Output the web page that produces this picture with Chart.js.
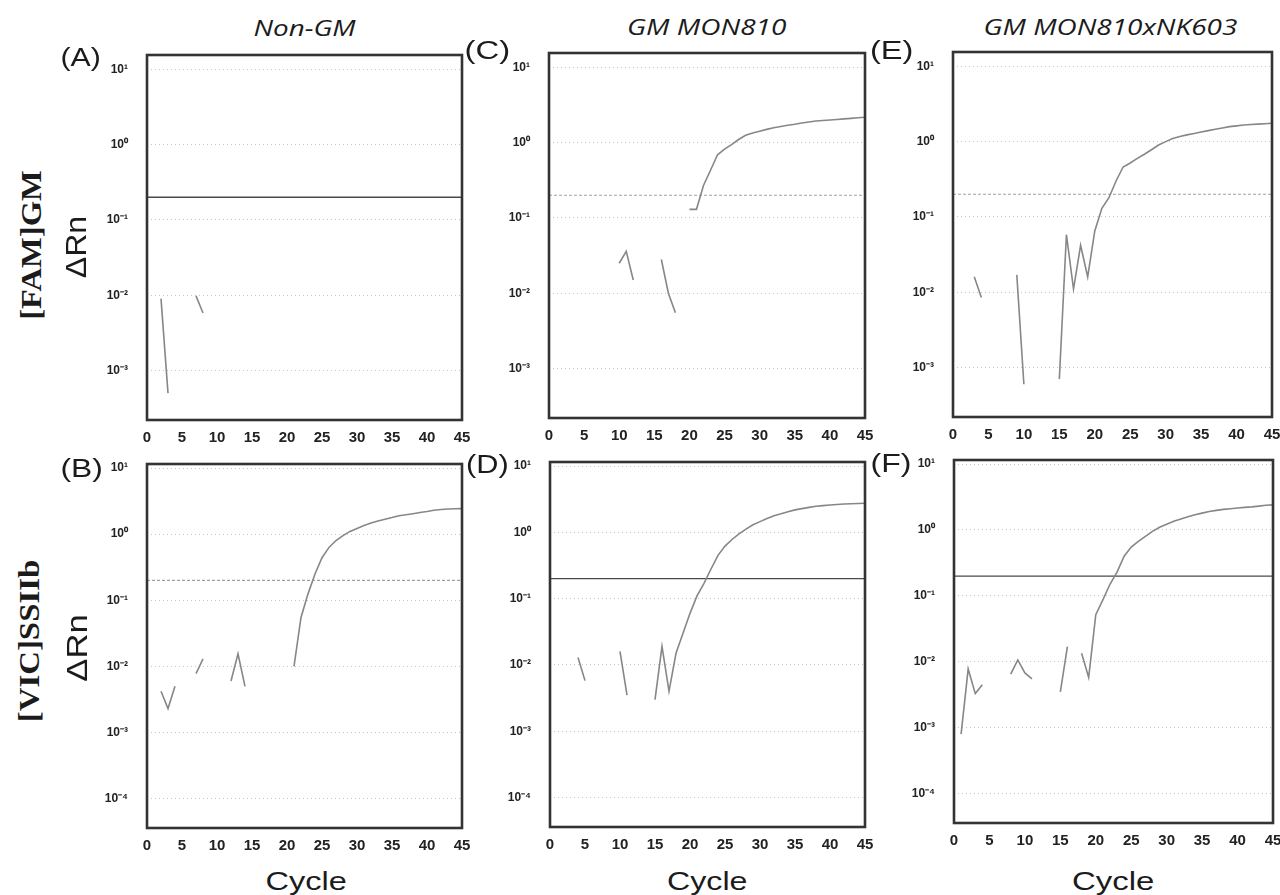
<!DOCTYPE html>
<html>
<head>
<meta charset="utf-8">
<script src="https://cdn.jsdelivr.net/npm/chart.js@4.4.0/dist/chart.umd.min.js"></script>
<style>
html, body { margin: 0; padding: 0; background: #fff; }
#fig { position: relative; width: 1280px; height: 895px; overflow: hidden; background: #fff; }
#fig canvas { position: absolute; }
.t { position: absolute; white-space: nowrap; color: #1b1b1b; }
</style>
</head>
<body>
<div id="fig"></div>
<script>
// qPCR cycles (x axis) and delta Rn per cycle, null = no value on the log scale
const cycles = [1,2,3,4,5,6,7,8,9,10,11,12,13,14,15,16,17,18,19,20,21,22,23,24,25,26,27,28,29,30,31,32,33,34,35,36,37,38,39,40,41,42,43,44,45];

const famNonGM = [null,0.009,0.0005,null,null,null,0.0098,0.0058,null,null,null,null,null,null,null,null,null,null,null,null,null,null,null,null,null,null,null,null,null,null,null,null,null,null,null,null,null,null,null,null,null,null,null,null,null];
const famMON810 = [null,null,null,null,null,null,null,null,null,0.025,0.036,0.015,null,null,null,0.028,0.01,0.0055,null,0.13,0.13,0.27,0.43,0.69,0.82,0.94,1.1,1.25,1.34,1.42,1.5,1.58,1.64,1.7,1.75,1.82,1.88,1.94,1.97,2.0,2.03,2.07,2.1,2.14,2.17];
const famStack = [null,null,0.016,0.0085,null,null,null,null,0.017,0.0006,null,null,null,null,0.0007,0.058,0.011,0.042,0.016,0.065,0.13,0.18,0.3,0.46,0.52,0.6,0.68,0.78,0.9,1.0,1.1,1.17,1.23,1.28,1.34,1.4,1.46,1.52,1.58,1.62,1.66,1.69,1.71,1.73,1.75];
const vicNonGM = [null,0.0042,0.0023,0.005,null,null,0.0078,0.013,null,null,null,0.006,0.0155,0.005,null,null,null,null,null,null,0.01,0.055,0.125,0.25,0.44,0.63,0.8,0.95,1.1,1.22,1.35,1.47,1.58,1.68,1.78,1.9,1.97,2.04,2.12,2.2,2.3,2.36,2.4,2.42,2.43];
const vicMON810 = [null,null,null,0.013,0.0058,null,null,null,null,0.016,0.0035,null,null,null,0.003,0.019,0.004,0.015,0.03,0.06,0.11,0.17,0.28,0.45,0.62,0.78,0.95,1.12,1.3,1.45,1.62,1.78,1.9,2.05,2.18,2.28,2.38,2.47,2.53,2.58,2.63,2.68,2.7,2.72,2.74];
const vicStack = [0.0008,0.0078,0.0033,0.0045,null,null,null,0.0065,0.0107,0.0068,0.0055,null,null,null,0.0035,0.017,null,0.0135,0.0058,0.052,0.087,0.15,0.23,0.4,0.55,0.67,0.8,0.95,1.1,1.22,1.35,1.47,1.58,1.7,1.8,1.9,1.98,2.05,2.1,2.15,2.2,2.24,2.3,2.37,2.4];

const threshold = 0.2;
const topDecades = [0.001, 0.01, 0.1, 1, 10];
const bottomDecades = [0.0001, 0.001, 0.01, 0.1, 1, 10];
const xTicks = [0, 5, 10, 15, 20, 25, 30, 35, 40, 45];

const fig = document.getElementById('fig');

const framePlugin = {
  id: 'frame',
  afterDraw(chart) {
    const { ctx, chartArea: a } = chart;
    ctx.save();
    ctx.strokeStyle = '#333';
    ctx.lineWidth = 2.6;
    ctx.strokeRect(a.left, a.top, a.right - a.left, a.bottom - a.top);
    ctx.restore();
  }
};

const sup = { '-': '\u207B', '0': '\u2070', '1': '\u00B9', '2': '\u00B2', '3': '\u00B3', '4': '\u2074' };
function decadeLabel(v) {
  const e = Math.round(Math.log10(v));
  return '10' + String(e).split('').map(c => sup[c]).join('');
}

const Y_W = 50, X_H = 30, PAD_T = 10, PAD_R = 12;

// keep the plot box exactly where the layout padding puts it
function noPad(s) {
  s.paddingTop = 0; s.paddingBottom = 0; s.paddingLeft = 0; s.paddingRight = 0;
}

function panel(box, values, decades, yMin, yMax, solidThreshold) {
  const [left, top, w, h] = box;
  const cv = document.createElement('canvas');
  cv.width = w + Y_W + PAD_R;
  cv.height = h + PAD_T + X_H;
  cv.style.left = (left - Y_W) + 'px';
  cv.style.top = (top - PAD_T) + 'px';
  fig.appendChild(cv);

  new Chart(cv.getContext('2d'), {
    type: 'line',
    data: {
      datasets: [
        {
          data: cycles.map((c, i) => ({ x: c, y: values[i] })),
          borderColor: '#878787',
          borderWidth: 1.6,
          pointRadius: 0,
          tension: 0,
          spanGaps: false
        },
        {
          data: [{ x: 0, y: threshold }, { x: 45, y: threshold }],
          borderColor: solidThreshold ? '#4a4a4a' : '#a0a0a0',
          borderWidth: solidThreshold ? 1.3 : 1.2,
          borderDash: solidThreshold ? [] : [3, 2],
          pointRadius: 0
        }
      ]
    },
    options: {
      responsive: false,
      animation: false,
      layout: { padding: { top: PAD_T, right: PAD_R, left: 0, bottom: 0 } },
      plugins: { legend: { display: false }, tooltip: { enabled: false } },
      scales: {
        x: {
          type: 'linear', min: 0, max: 45,
          afterBuildTicks: s => { s.ticks = xTicks.map(v => ({ value: v })); },
          afterFit: s => { s.height = X_H; noPad(s); },
          ticks: { font: { family: 'Liberation Sans', size: 15, weight: 'bold' }, color: '#222', padding: 9, maxRotation: 0, autoSkip: false },
          grid: { display: false, drawTicks: false },
          border: { display: false }
        },
        y: {
          type: 'logarithmic', min: yMin, max: yMax,
          afterBuildTicks: s => { s.ticks = decades.map(v => ({ value: v })); },
          afterFit: s => { s.width = Y_W; noPad(s); },
          ticks: { callback: v => decadeLabel(v), font: { family: 'Liberation Sans', size: 12, weight: 'bold' }, color: '#222', padding: 19, autoSkip: false },
          grid: { color: '#c6c6c6', lineWidth: 1, drawTicks: false },
          border: { display: false, dash: [1, 3] }
        }
      }
    },
    plugins: [framePlugin]
  });
}

// top row: FAM | GM, bottom row: VIC | SSIIb
panel([147, 55, 315, 365], famNonGM, topDecades, 2.2e-4, 15.5, true);
panel([549, 53, 316, 365], famMON810, topDecades, 2.2e-4, 15.5, false);
panel([953, 52, 319, 365], famStack, topDecades, 2.2e-4, 15.5, false);
panel([147, 464, 315, 364], vicNonGM, bottomDecades, 3.6e-5, 11.5, false);
panel([550, 462, 315, 365], vicMON810, bottomDecades, 3.6e-5, 11.5, true);
panel([954, 460, 319, 363], vicStack, bottomDecades, 3.6e-5, 11.5, true);

function addText(txt, cx, cy, font, len, rot) {
  const d = document.createElement('div');
  d.className = 't';
  d.textContent = txt;
  d.style.font = font;
  d.style.lineHeight = '1';
  fig.appendChild(d);
  const w = d.offsetWidth, h = d.offsetHeight;
  const sx = len ? len / w : 1;
  d.style.left = (cx - w / 2) + 'px';
  d.style.top = (cy - h / 2) + 'px';
  d.style.transform = (rot ? 'rotate(-90deg) ' : '') + 'scaleX(' + sx + ')';
}

addText('Non-GM', 304, 28, 'italic 21px "Open Sans"', 102);
addText('GM MON810', 707, 27, 'italic 21px "Open Sans"', 160);
addText('GM MON810xNK603', 1110, 27, 'italic 21px "Open Sans"', 254);

addText('(A)', 80, 57, '25px "Liberation Sans"', 40);
addText('(C)', 487, 50, '25px "Liberation Sans"', 46);
addText('(E)', 891, 50, '25px "Liberation Sans"', 43);
addText('(B)', 81, 468, '25px "Liberation Sans"', 42);
addText('(D)', 487, 464, '25px "Liberation Sans"', 43);
addText('(F)', 891, 463, '25px "Liberation Sans"', 41);

addText('[FAM]GM', 31, 245, 'bold 30px "Liberation Serif"', 150, true);
addText('\u0394Rn', 76, 247, '30px "Liberation Sans"', 62, true);
addText('[VIC]SSIIb', 29, 641, 'bold 30px "Liberation Serif"', 162, true);
addText('\u0394Rn', 77, 648, '30px "Liberation Sans"', 67, true);

addText('Cycle', 306, 881, '25px "Liberation Sans"', 82);
addText('Cycle', 707, 881, '25px "Liberation Sans"', 81);
addText('Cycle', 1113, 881, '25px "Liberation Sans"', 83);
</script>
</body>
</html>
